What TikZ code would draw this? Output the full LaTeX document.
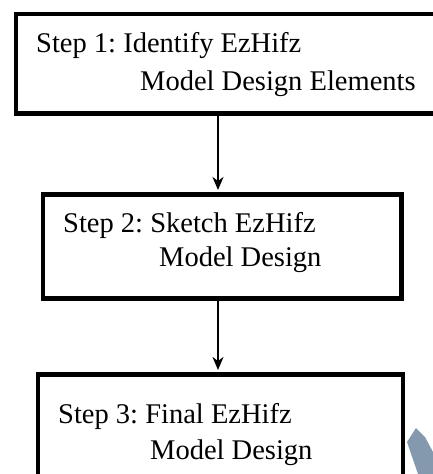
\documentclass[tikz,border=0pt]{standalone}
\usepackage{fontspec}
\setmainfont{Liberation Serif}
\usetikzlibrary{arrows.meta}
\definecolor{wmark}{RGB}{112,136,160}
\tikzset{
  stepbox/.style={draw=black, line width=4.5pt, rectangle, inner sep=0pt, anchor=north west, fill=white},
  steptext/.style={inner sep=0pt, anchor=base west, font=\fontsize{28.5}{34}\selectfont\frenchspacing},
  flow/.style={line width=1.8pt, -{Stealth[length=13pt,width=11pt,inset=4pt]}, shorten >=2pt}
}
\begin{document}
\frenchspacing
\begin{tikzpicture}[x=1pt,y=-1pt]
\useasboundingbox (0,0) rectangle (433,474);
\fill[white] (0,0) rectangle (433,474);
\clip (0,0) rectangle (433,474);
% boxes
\node[stepbox, minimum width=428.5pt, minimum height=99.5pt] (b1) at (13.5,11.5) {};
\node[stepbox, minimum width=358.5pt, minimum height=104pt] (b2) at (40.5,192) {};
\node[stepbox, minimum width=365pt, minimum height=110pt] (b3) at (35.5,372) {};
% texts
\node[steptext] (t1a) at (36,52.5) {Step 1: Identify EzHifz};
\node[steptext] (t1b) at (140,90) {Model Design Elements};
\node[steptext] (t2a) at (63,232) {Step 2: Sketch EzHifz};
\node[steptext] (t2b) at (159,266) {Model Design};
\node[steptext] (t3a) at (58,423) {Step 3: Final EzHifz};
\node[steptext] (t3b) at (150,459) {Model Design};
% connectors
\coordinate (ax) at (218,0);
\draw[flow] (ax |- b1.south) -- (ax |- b2.north);
\draw[flow] (ax |- b2.south) -- (ax |- b3.north);
% faint watermark fragment
\fill[wmark, opacity=0.85] (416,428) -- (407,442) -- (418,474) -- (433,474) -- (433,452) -- (425,437) -- cycle;
\end{tikzpicture}
\end{document}
